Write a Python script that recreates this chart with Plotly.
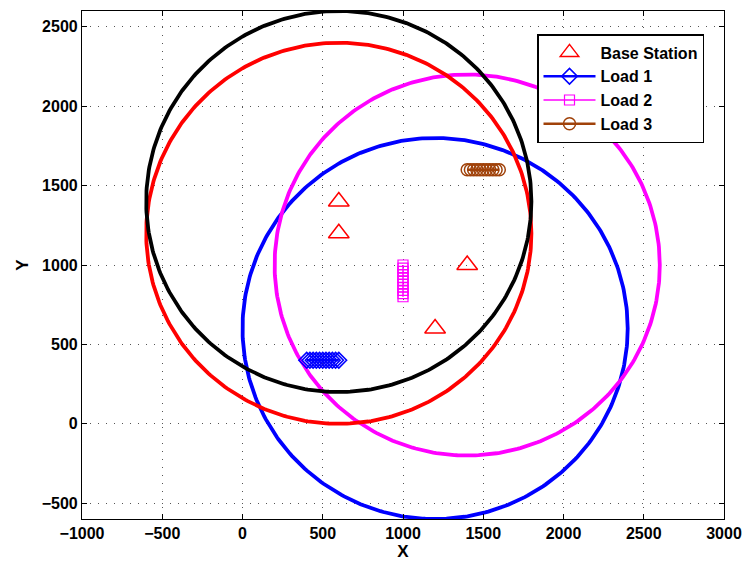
import numpy as np
import plotly.graph_objects as go

# Base station positions and their coverage radius
bs_x = [600, 600, 1400, 1200]
bs_y = [1400, 1200, 1000, 600]
coverage_r = [1200, 1200, 1200, 1200]
coverage_colors = ["black", "red", "#ff00ff", "blue"]

# Load positions
load1_x = [400, 420, 440, 460, 480, 500, 520, 540, 560, 580, 600]
load1_y = [400, 400, 400, 400, 400, 400, 400, 400, 400, 400, 400]
load2_x = [1000, 1000, 1000, 1000, 1000, 1000, 1000, 1000, 1000, 1000, 1000]
load2_y = [800, 820, 840, 860, 880, 900, 920, 940, 960, 980, 1000]
load3_x = [1400, 1420, 1440, 1460, 1480, 1500, 1520, 1540, 1560, 1580, 1600]
load3_y = [1600, 1600, 1600, 1600, 1600, 1600, 1600, 1600, 1600, 1600, 1600]

x_ticks = [-1000, -500, 0, 500, 1000, 1500, 2000, 2500, 3000]
y_ticks = [-500, 0, 500, 1000, 1500, 2000, 2500]

FONT = "Liberation Sans, Arial, sans-serif"

fig = go.Figure()

# Coverage circles (drawn in reverse so the first station's circle sits on top)
theta = np.linspace(0, 2 * np.pi, 400)
for cx, cy, r, col in reversed(list(zip(bs_x, bs_y, coverage_r, coverage_colors))):
    fig.add_trace(go.Scatter(
        x=cx + r * np.cos(theta), y=cy + r * np.sin(theta),
        mode="lines", line=dict(color=col, width=3.8),
        showlegend=False, hoverinfo="skip"))

fig.add_trace(go.Scatter(
    x=bs_x, y=bs_y, mode="markers", name="Base Station",
    marker=dict(symbol="triangle-up-open", size=18, color="red",
                line=dict(width=1.5, color="red"))))
fig.add_trace(go.Scatter(
    x=load1_x, y=load1_y, mode="lines+markers", name="Load 1",
    line=dict(color="blue", width=2.5),
    marker=dict(symbol="diamond-open", size=12, color="blue",
                line=dict(width=1.6, color="blue"))))
fig.add_trace(go.Scatter(
    x=load2_x, y=load2_y, mode="lines+markers", name="Load 2",
    line=dict(color="#ff00ff", width=1.5),
    marker=dict(symbol="square-open", size=10, color="#ff00ff",
                line=dict(width=1.2, color="#ff00ff"))))
fig.add_trace(go.Scatter(
    x=load3_x, y=load3_y, mode="lines+markers", name="Load 3",
    line=dict(color="#a0420a", width=2.5),
    marker=dict(symbol="circle-open", size=12, color="#a0420a",
                line=dict(width=1.5, color="#a0420a"))))

axis_common = dict(
    showline=True, linecolor="black", linewidth=1.2, mirror="ticks",
    ticks="inside", ticklen=5, tickcolor="black",
    showgrid=True, gridcolor="#555555", gridwidth=1, griddash="1px,7px",
    zeroline=False, automargin=False,
    tickfont=dict(family=FONT, size=16, color="black", weight="bold"),
)

fig.update_xaxes(range=[-1000, 3000], tickvals=x_ticks,
                 title=dict(text="X", font=dict(family=FONT, size=17, color="black", weight="bold"),
                            standoff=2),
                 **axis_common)
fig.update_yaxes(range=[-600, 2600], tickvals=y_ticks,
                 title=dict(text="Y", font=dict(family=FONT, size=17, color="black", weight="bold"),
                            standoff=8),
                 **axis_common)

fig.update_layout(
    width=742, height=563,
    margin=dict(l=82, r=18, t=11, b=44),
    paper_bgcolor="white", plot_bgcolor="white",
    legend=dict(x=(537 - 82) / 642, y=(519 - 34) / 508, xanchor="left", yanchor="top",
                bgcolor="white", bordercolor="black", borderwidth=1.5,
                font=dict(family=FONT, size=16, color="black", weight="bold"),
                tracegroupgap=0, itemwidth=52),
    font=dict(family=FONT),
)

fig.write_html("out.html")
